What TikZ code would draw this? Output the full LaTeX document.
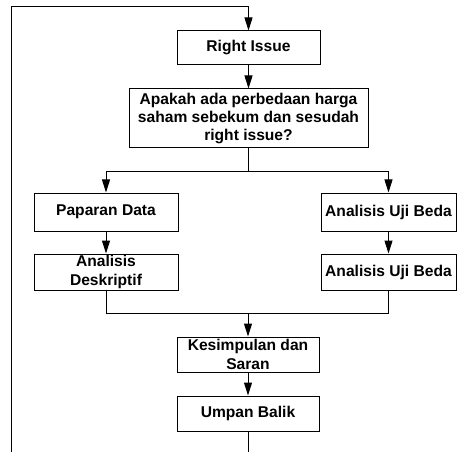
\documentclass[tikz,border=0pt]{standalone}
\usepackage{fontspec}
\setmainfont{Liberation Sans}
\usetikzlibrary{arrows.meta}
\begin{document}
\begin{tikzpicture}[x=1pt,y=-1pt,
  box/.style={draw,line width=1pt,inner sep=0pt,align=center,font=\bfseries\fontsize{15.6}{18.3}\selectfont},
  arr/.style={line width=1pt,-{Triangle[length=13pt,width=8pt]}},
  ln/.style={line width=1pt}]
\useasboundingbox (0,0) rectangle (464,452);
\node[box,minimum width=143pt,minimum height=34pt] (ri) at (248.5,48) {Right Issue};
\node[box,minimum width=239pt,minimum height=59pt] (q) at (248.5,118.5) {Apakah ada perbedaan harga\\saham sebekum dan sesudah\\right issue?};
\node[box,minimum width=144pt,minimum height=38pt] (pd) at (106,212) {Paparan Data};
\node[box,minimum width=135pt,minimum height=38pt] (au1) at (388.5,212) {Analisis Uji Beda};
\node[box,minimum width=144pt,minimum height=36pt] (ad) at (106,272) {Analisis\\Deskriptif};
\node[box,minimum width=135pt,minimum height=36pt] (au2) at (388.5,272) {Analisis Uji Beda};
\node[box,minimum width=142pt,minimum height=35pt] (ks) at (248,354.5) {Kesimpulan dan\\Saran};
\node[box,minimum width=142pt,minimum height=35pt] (um) at (248,413.5) {Umpan Balik};
\coordinate (bl) at (11,452);
\coordinate (tl) at (11,7);
\coordinate (tr) at (248.5,7);
\coordinate (s) at (248.5,172);
\coordinate (j) at (248,313);
\coordinate (ub) at (248,452);
\draw[arr] (bl) -- (tl) -- (tr) -- (ri.north);
\draw[arr] (ri.south) -- (q.north);
\draw[ln] (q.south) -- (s);
\draw[arr] (s) -| (pd.north);
\draw[arr] (s) -| (au1.north);
\draw[arr] (pd.south) -- (ad.north);
\draw[arr] (au1.south) -- (au2.north);
\draw[ln] (ad.south) |- (j);
\draw[ln] (au2.south) |- (j);
\draw[arr] (j) -- (ks.north);
\draw[arr] (ks.south) -- (um.north);
\draw[ln] (um.south) -- (ub);
\end{tikzpicture}
\end{document}
